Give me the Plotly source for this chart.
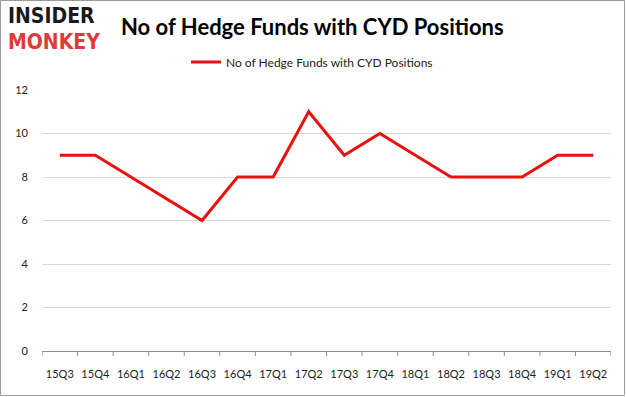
import plotly.graph_objects as go

quarters = ["15Q3", "15Q4", "16Q1", "16Q2", "16Q3", "16Q4", "17Q1", "17Q2",
            "17Q3", "17Q4", "18Q1", "18Q2", "18Q3", "18Q4", "19Q1", "19Q2"]
funds = [9, 9, 8, 7, 6, 8, 8, 11, 9, 10, 9, 8, 8, 8, 9, 9]
y_ticks = [0, 2, 4, 6, 8, 10, 12]
series_name = "No of Hedge Funds with CYD Positions"

FONT = "Lato, Carlito, Liberation Sans, Arial"
L, R, T, B = 42, 15, 90, 46
PW, PH = 626 - L - R, 397 - T - B

fig = go.Figure()
fig.add_trace(go.Scatter(
    x=list(range(len(quarters))), y=funds, mode="lines", name=series_name,
    line=dict(color="#e8110f", width=3),
))

fig.update_layout(
    width=626, height=397,
    margin=dict(l=L, r=R, t=T, b=B),
    paper_bgcolor="white", plot_bgcolor="white",
    showlegend=True,
    legend=dict(orientation="h", x=(312 - L) / PW, xanchor="center", y=1 + (T - 62) / PH, yanchor="middle",
                font=dict(family=FONT, size=12, color="#222"),
                bgcolor="rgba(0,0,0,0)"),
    font=dict(family=FONT, size=11, color="#222"),
    xaxis=dict(
        tickmode="array", tickvals=list(range(len(quarters))), ticktext=quarters,
        range=[-0.5, len(quarters) - 0.5],
        showgrid=False, showline=True, linecolor="#8c8c8c", linewidth=1,
        ticks="", zeroline=False, ticklabelstandoff=13,
        tickfont=dict(size=11, color="#222"),
    ),
    yaxis=dict(
        tickmode="array", tickvals=y_ticks, range=[0, 12],
        showgrid=True, gridcolor="#d9d9d9", gridwidth=1,
        showline=False, zeroline=False, ticks="",
        tickfont=dict(size=11, color="#222"), ticklabelstandoff=13,
    ),
    shapes=[
        dict(type="rect", xref="paper", yref="paper", x0=(0.5 - L) / PW, x1=1 + (R - 1.5) / PW,
             y0=-(B - 1.5) / PH, y1=1 + (T - 0.5) / PH, line=dict(color="#9a9a9a", width=1),
             fillcolor="rgba(0,0,0,0)"),
    ] + [
        dict(type="line", xref="x", yref="paper", x0=i - 0.5, x1=i - 0.5, y0=0, y1=-5 / PH,
             line=dict(color="#8c8c8c", width=1))
        for i in range(len(quarters) + 1)
    ],
    annotations=[
        dict(text="<b>No of Hedge Funds with CYD Positions</b>", xref="paper", yref="paper",
             x=(312 - L) / PW, y=1 + (T - 27) / PH, xanchor="center", yanchor="middle", showarrow=False,
             font=dict(family=FONT, size=22, color="black")),
        dict(text="<b>INSIDER</b>", xref="paper", yref="paper",
             x=(7 - L) / PW, y=1 + (T - 16) / PH, xanchor="left", yanchor="middle", showarrow=False,
             borderpad=0,
             font=dict(family="DejaVu Sans Condensed, DejaVu Sans", size=21, color="#1a1a1a")),
        dict(text="<b>MONKEY</b>", xref="paper", yref="paper",
             x=(7 - L) / PW, y=1 + (T - 42) / PH, xanchor="left", yanchor="middle", showarrow=False,
             borderpad=0,
             font=dict(family="DejaVu Sans Condensed, DejaVu Sans", size=21, color="#e0393a")),
    ],
)

fig.write_html("out.html", config={"displayModeBar": False},
               post_script="document.body.style.margin='0';document.body.style.overflow='hidden';")
